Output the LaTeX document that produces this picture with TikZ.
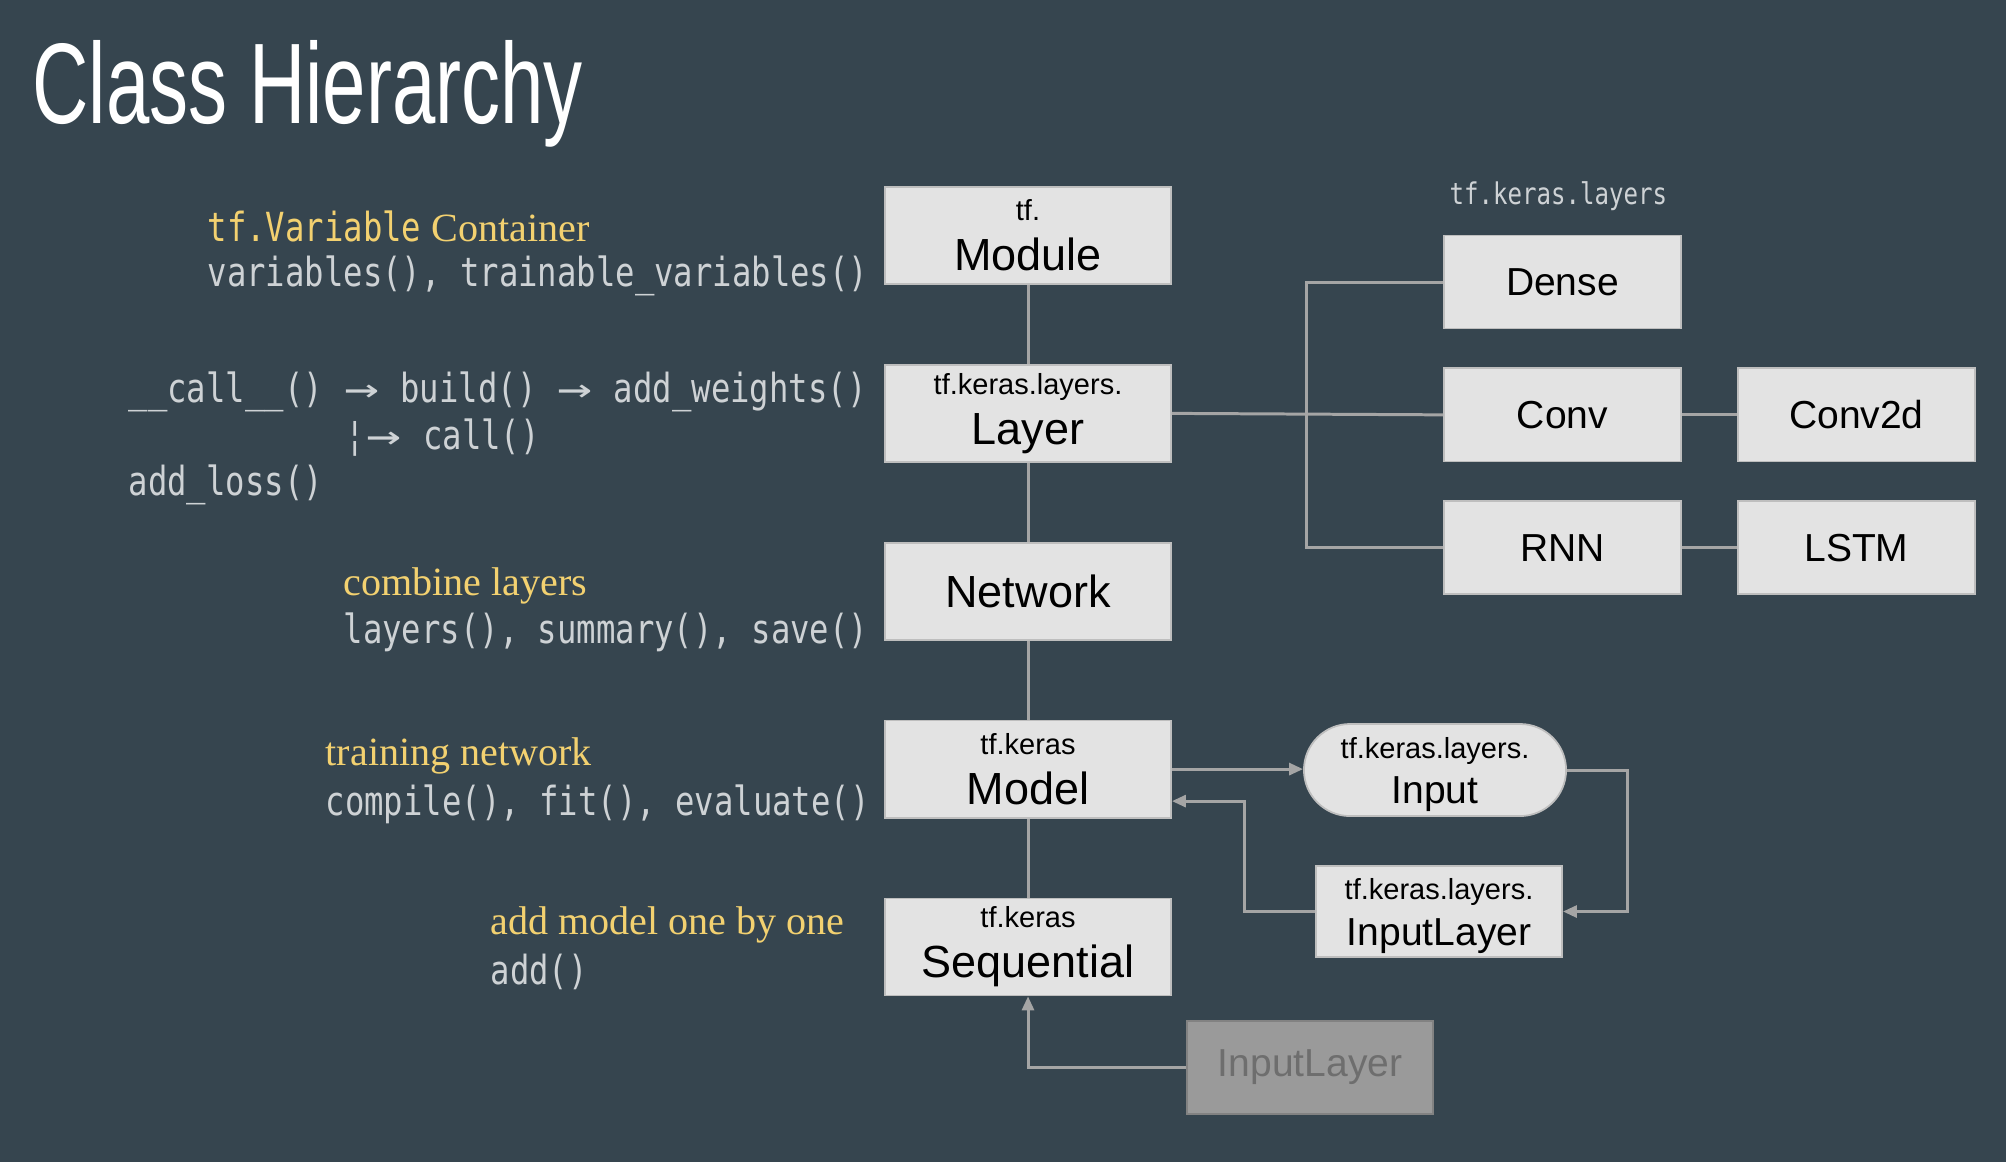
\documentclass[tikz,border=0pt]{standalone}
\usepackage{fontspec}
\setmainfont{Liberation Sans}
\newfontfamily\titlefont[FakeStretch=0.68]{Liberation Sans}
\newfontfamily\codefont[FakeStretch=0.805]{DejaVu Sans Mono}
\newfontfamily\notefont{Liberation Serif}
\usepackage{xcolor}
\usepackage{tikz}
\usetikzlibrary{arrows.meta,positioning}

\definecolor{slide}{RGB}{54,69,79}
\definecolor{boxfill}{RGB}{227,227,227}
\definecolor{boxline}{RGB}{190,190,190}
\definecolor{wire}{RGB}{165,165,165}
\definecolor{codegray}{RGB}{206,210,213}
\definecolor{noteyellow}{RGB}{243,209,112}
\definecolor{ghostfill}{RGB}{154,154,154}
\definecolor{ghostline}{RGB}{130,130,130}
\definecolor{ghosttext}{RGB}{110,110,110}

\newcommand\tfpre[1]{{\fontsize{8.25pt}{9pt}\selectfont #1}}
\newcommand\tfprelow[1]{{\fontsize{8.25pt}{9pt}\selectfont\rule{0pt}{0.3cm}#1}}
\newcommand\longto{\makebox[0.386cm]{\scalebox{1.8}[1]{→}}}
\newcommand\us{\char"5F\relax}

\begin{document}
\begin{tikzpicture}[
x=0.01cm, y=-0.01cm,
node distance=0.79cm and 0.55cm,
box/.style={draw=boxline, fill=boxfill, line width=0.5pt, inner sep=0pt, align=center, text=black, minimum width=2.86cm, minimum height=0.97cm, font=\fontsize{12.8pt}{14.2pt}\selectfont},
sbox/.style={box, minimum width=2.37cm, minimum height=0.93cm, font=\fontsize{11.1pt}{13pt}\selectfont},
code/.style={anchor=west, inner sep=0pt, text=codegray, font=\codefont\fontsize{11.4pt}{13pt}\selectfont},
note/.style={anchor=west, inner sep=0pt, text=noteyellow, font=\notefont\fontsize{11.4pt}{13pt}\selectfont},
line/.style={draw=wire, line width=0.85pt},
arr/.style={line, -{Triangle[length=1.4mm, width=1.2mm]}}
]
\fill[slide] (0,0) rectangle (2006,1162);
\useasboundingbox (0,0) rectangle (2006,1162);

\node[anchor=base west, inner sep=0pt, text=white, font=\titlefont\fontsize{32.6pt}{36pt}\selectfont] (title) at (32,123) {Class Hierarchy};

% main column
\node[box] (mod) at (1028,235.5) {\tfpre{tf.}\\Module};
\node[box, below=of mod] (lay) {\tfpre{tf.keras.layers.}\\Layer};
\node[box, below=of lay] (net) {Network};
\node[box, below=of net] (mdl) {\tfpre{tf.keras}\\Model};
\node[box, below=of mdl] (seq) {\tfpre{tf.keras}\\Sequential};

% layers
\node[code, font=\codefont\fontsize{8.5pt}{10pt}\selectfont] (kl) at (1449,196) {tf.keras.layers};
\node[sbox] (dense) at (1562.5,282) {Dense};
\node[sbox, below=0.38cm of dense] (conv) {Conv};
\node[sbox, below=0.38cm of conv] (rnn) {RNN};
\node[sbox, right=of conv] (conv2d) {Conv2d};
\node[sbox, right=of rnn] (lstm) {LSTM};

% inputs
\node[sbox, rounded corners=0.46cm, minimum width=2.62cm, minimum height=0.92cm] (inp) at (1435,770) {\tfprelow{tf.keras.layers.}\\Input};
\node[sbox, minimum width=2.46cm, minimum height=0.91cm] (inl) at (1439,911.5) {\tfprelow{tf.keras.layers.}\\InputLayer};
\node[sbox, minimum width=2.46cm, fill=ghostfill, draw=ghostline, text=ghosttext] (ginl) at (1310,1067.5) {InputLayer};

% notes
\node[note] (varc) at (207,226) {{\codefont tf.Variable} Container};
\node[code] (varm) at (207,276) {variables(), trainable\us variables()};
\node[code] (callm) at (128,392) {\us\us call\us\us() \longto{} build() \longto{} add\us weights()};
\node[code] (callb) at (345,438) {¦\longto{} call()};
\node[code] (lossm) at (128,485) {add\us loss()};
\node[note] (combc) at (343,586) {combine layers};
\node[code] (combm) at (343,632) {layers(), summary(), save()};
\node[note] (trainc) at (325,756) {training network};
\node[code] (trainm) at (325,804) {compile(), fit(), evaluate()};
\node[note] (addc) at (490,925) {add model one by one};
\node[code] (addm) at (490,972) {add()};

% connectors
\draw[line] (mod) -- (lay);
\draw[line] (lay) -- (net);
\draw[line] (net) -- (mdl);
\draw[line] (mdl) -- (seq);
\coordinate (fork) at (1306,414);
\draw[line] (lay.east) -- (conv.west);
\draw[line] (dense.west) -| (fork) |- (rnn.west);
\draw[line] (conv) -- (conv2d);
\draw[line] (rnn) -- (lstm);
\draw[arr] (mdl.east) -- (mdl.east -| inp.west);
\draw[arr] (inp.east) -- ++(61,0) |- (inl.east);
\draw[arr] (inl.west) -- ++(-71,0) |- ([yshift=-0.32cm]mdl.east);
\draw[arr] (ginl.west) -| (seq.south);
\end{tikzpicture}
\end{document}
